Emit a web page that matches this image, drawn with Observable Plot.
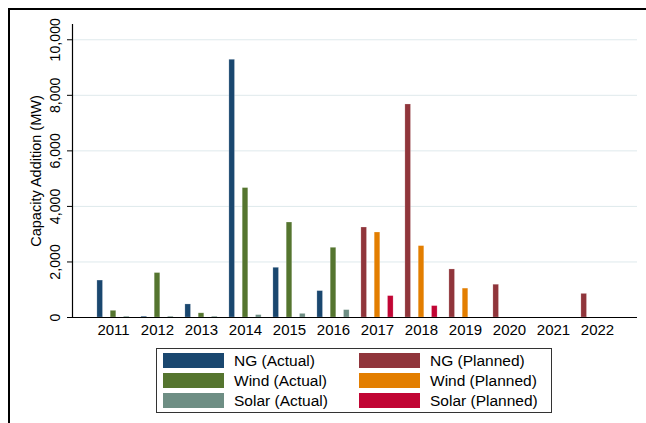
<!DOCTYPE html>
<html>
<head>
<meta charset="utf-8">
<script src="https://cdn.jsdelivr.net/npm/d3@7"></script>
<script src="https://cdn.jsdelivr.net/npm/@observablehq/plot@0.6"></script>
<style>
  html, body { margin: 0; padding: 0; background: #fff; }
  #page { position: relative; width: 646px; height: 423px; overflow: hidden;
          font-family: "Liberation Sans", Arial, sans-serif; color: #000; }
  #chart { position: absolute; left: 0; top: 0; }
  #border { position: absolute; left: 7.5px; top: 7.5px; right: -10px; bottom: -10px;
            border-left: 2.5px solid #000; border-top: 2.5px solid #000; pointer-events: none; }
  #legend { position: absolute; left: 156px; top: 348px; width: 396px; height: 65px;
            box-sizing: border-box; border: 1px solid #333; padding: 4px 0 0 6px;
            display: grid; grid-template-columns: 196px 190px; row-gap: 5px;
            grid-auto-flow: column; grid-template-rows: 15px 15px 15px; }
  .item { display: flex; align-items: center; height: 15px; font-size: 15.5px; white-space: nowrap; }
  .sw { width: 61px; height: 15px; margin-right: 10px; flex: none; }
</style>
</head>
<body>
<div id="page">
  <div id="chart"></div>
  <div id="legend"></div>
  <div id="border"></div>
</div>
<script>
// Annual capacity additions (MW): actual through 2016, planned from 2017
const years = ["2011", "2012", "2013", "2014", "2015", "2016",
               "2017", "2018", "2019", "2020", "2021", "2022"];
const actualYears = ["2011", "2012", "2013", "2014", "2015", "2016"];
const plannedYears = ["2017", "2018", "2019", "2020", "2021", "2022"];

const ngActual    = [1330,   30,  470, 9280, 1790,  950];
const windActual  = [ 240, 1600,  150, 4660, 3420, 2510];
const solarActual = [  30,   30,   30,   85,  130,  265];

const ngPlanned    = [3240, 7670, 1730, 1180, 0, 850];
const windPlanned  = [3060, 2570, 1040,    0, 0,   0];
const solarPlanned = [ 770,  410,    0,    0, 0,   0];

const seriesNames = ["NG (Actual)", "Wind (Actual)", "Solar (Actual)",
                     "NG (Planned)", "Wind (Planned)", "Solar (Planned)"];
const seriesColors = ["#1a476f", "#55752f", "#6e8e84",
                      "#90353b", "#e37e00", "#c10534"];

const yTicks = [0, 2000, 4000, 6000, 8000, 10000];
const yTitle = "Capacity Addition (MW)";

// Long-format rows; slot is the position of the bar within its year (NG, Wind, Solar)
const rows = [];
function addSeries(yrs, values, name, slot) {
  yrs.forEach((yr, i) => {
    if (values[i] > 0) rows.push({year: yr, series: name, slot, value: values[i]});
  });
}
addSeries(actualYears, ngActual, "NG (Actual)", 0);
addSeries(actualYears, windActual, "Wind (Actual)", 1);
addSeries(actualYears, solarActual, "Solar (Actual)", 2);
addSeries(plannedYears, ngPlanned, "NG (Planned)", 0);
addSeries(plannedYears, windPlanned, "Wind (Planned)", 1);
addSeries(plannedYears, solarPlanned, "Solar (Planned)", 2);

const slotOffset = [-13.3, 0, 13.3];
const barInset = 19.2;

const barMarks = [0, 1, 2].map(k =>
  Plot.barY(rows.filter(d => d.slot === k), {
    x: "year", y: "value", fill: "series",
    dx: slotOffset[k], insetLeft: barInset, insetRight: barInset,
    stroke: "white", strokeOpacity: 0.35, strokeWidth: 0.6
  })
);

const fmt = d3.format(",");

const chart = Plot.plot({
  width: 646,
  height: 345,
  marginLeft: 72,
  marginRight: 9,
  marginTop: 24,
  marginBottom: 28,
  style: {fontFamily: "'Liberation Sans', Arial, sans-serif", fontSize: "14px",
          background: "transparent", color: "#000"},
  x: {domain: years, padding: 0, paddingOuter: 0.28, label: null},
  y: {domain: [0, 10550], label: null},
  color: {domain: seriesNames, range: seriesColors},
  marks: [
    Plot.gridY(yTicks.filter(d => d > 0), {stroke: "#dfe9ec", strokeOpacity: 1, strokeWidth: 1}),
    ...barMarks,
    Plot.axisY(yTicks, {tickSize: 5, tickFormat: () => "", label: null, stroke: "#000"}),
    Plot.text(yTicks, {y: d => d, text: d => fmt(d), frameAnchor: "left", dx: -17,
                       rotate: -90, textAnchor: "middle", lineAnchor: "middle", fontSize: 14.2}),
    Plot.text([yTitle], {text: d => d, frameAnchor: "left", dx: -36, rotate: -90,
                         textAnchor: "middle", lineAnchor: "middle", fontSize: 14.5}),
    Plot.axisX({tickSize: 0, tickPadding: 7, label: null, fontSize: 15}),
    Plot.frame({anchor: "left", stroke: "#000", strokeWidth: 1.2}),
    Plot.ruleY([0], {stroke: "#000", strokeWidth: 1.2})
  ]
});
document.getElementById("chart").appendChild(chart);

// Two-column legend box beneath the plot
const legend = d3.select("#legend");
seriesNames.forEach((name, i) => {
  const item = legend.append("div").attr("class", "item");
  item.append("span").attr("class", "sw").style("background", seriesColors[i]);
  item.append("span").text(name);
});
</script>
</body>
</html>
